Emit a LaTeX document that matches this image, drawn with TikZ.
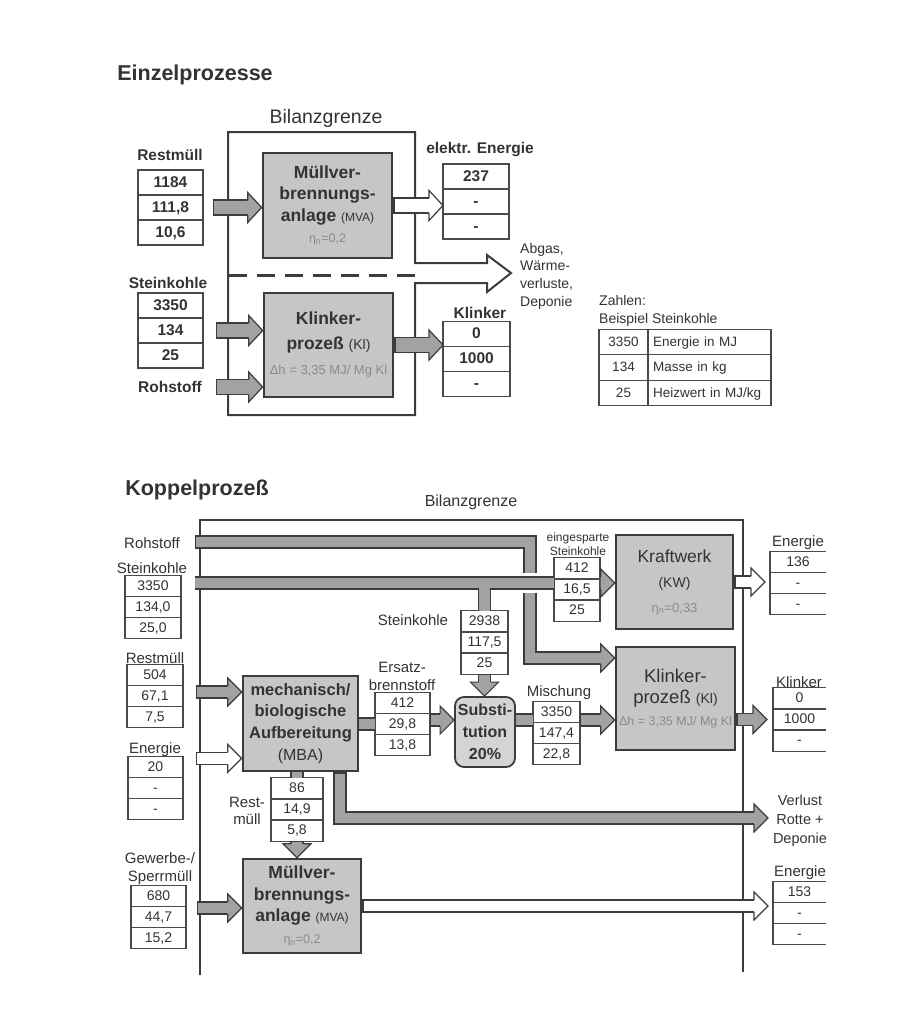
\documentclass[tikz,border=0pt]{standalone}
\usepackage{fontspec}
\setmainfont{Liberation Sans}
\usetikzlibrary{calc,positioning,shapes.multipart}
\definecolor{DiagText}{HTML}{333333}
\definecolor{DiagEdge}{HTML}{3C3C3C}
\definecolor{DiagLine}{HTML}{4A4A4A}
\definecolor{DiagBox}{HTML}{C6C6C6}
\definecolor{DiagFlow}{HTML}{A2A2A2}
\definecolor{DiagSoft}{HTML}{8A8A8A}
\newcommand\sm[2]{{\mdseries\fontsize{#1}{#1}\selectfont#2}}
\newcommand\soft[2]{{\mdseries\fontsize{#1}{#1}\selectfont\color{DiagSoft}#2}}
\newcommand\vals[3]{\rule[-.32em]{0pt}{1.25em}#1\nodepart{two}\rule[-.32em]{0pt}{1.25em}#2\nodepart{three}\rule[-.32em]{0pt}{1.25em}#3}
% block arrow: #2 path up to the last bend, #3 last bend, #4 tip
\newcommand\flow[4][]{%
  \begin{scope}[#1]
    \path ($(#4)!\flowL!(#3)$) coordinate (fb);
    \draw[preaction={draw=DiagEdge,line width=2*\flowS+1.2pt,shorten <=0pt},
      draw=\flowC,line width=2*\flowS-1.2pt,shorten <=1.2pt] #2 -- (fb);
    \filldraw[fill=\flowC,draw=DiagEdge,line width=1.2pt]
      ($(fb)!\flowS!90:(#4)$) -- ($(fb)!\flowH!90:(#4)$) -- (#4)
      -- ($(fb)!\flowH!-90:(#4)$) -- ($(fb)!\flowS!-90:(#4)$);
  \end{scope}}

\begin{document}
\begin{tikzpicture}[x=1pt,y=-1pt,
    ttl/.style={font=\fontsize{21.5}{24}\selectfont\bfseries,text=DiagText,inner sep=0pt},
    lblb/.style={font=\fontsize{15.5}{18}\selectfont\bfseries,text=DiagText,inner sep=1pt},
    lbl/.style={font=\fontsize{15}{17.5}\selectfont,text=DiagText,inner sep=1pt,align=center},
    proc/.style={draw=DiagEdge,line width=2.6pt,fill=DiagBox,align=center,inner sep=0pt,text=DiagText,
      font=\fontsize{17.5}{21.5}\selectfont\bfseries},
    tab/.style={rectangle split,rectangle split parts=3,draw=DiagLine,line width=1.2pt,fill=white,
      text width=#1,align=center,inner xsep=0pt,outer sep=0pt,text=DiagText},
    tabU/.style={tab=#1,inner ysep=2.2pt,font=\fontsize{15.5}{18}\selectfont\bfseries},
    tabL/.style={tab=#1,inner ysep=1.2pt,font=\fontsize{14}{16}\selectfont},
    tabO/.style={tabL=#1,draw=none},
    tabline/.style={draw=DiagLine,line width=1.2pt},
    bound/.style={draw=DiagEdge,line width=2pt},
    bar/.style={preaction={draw=DiagEdge,line width=13.2pt,shorten <=0pt},draw=DiagFlow,line width=10.8pt},
    up/.style={flow shaft=7.5pt,flow head=15pt},
    hollow/.style={flow fill=white},
    flow shaft/.store in=\flowS,flow head/.store in=\flowH,flow len/.store in=\flowL,flow fill/.store in=\flowC,
    flow shaft=6pt,flow head=14pt,flow len=14pt,flow fill=DiagFlow]
  \fill[white] (0,0) rectangle (922,1025);
  \useasboundingbox (0,0) rectangle (922,1025);

  % Einzelprozesse
  \node[ttl] (ttlA) at (195,75) {Einzelprozesse};
  \node[font=\fontsize{19.5}{22}\selectfont,text=DiagText] (bgA) at (326,118) {Bilanzgrenze};
  \draw[bound] (228,132) -- (415,132) -- (415,263) -- (487,263) -- (487,255) -- (511,273)
    -- (487,292) -- (487,283) -- (415,283) -- (415,415) -- (228,415) -- cycle;
  \draw[bound,line width=3pt,dash pattern=on 18pt off 10pt] (229,275) -- (415,275);

  \node[lblb] (rmU) at (170,155) {Restmüll};
  \node[tabU=65pt] (rmT) at (170.5,207.5) {\vals{1184}{111,8}{10,6}};
  \node[lblb] (skU) at (168,283) {Steinkohle};
  \node[tabU=65pt] (skT) at (170.5,330.5) {\vals{3350}{134}{25}};
  \node[lblb] (roU) at (170,387) {Rohstoff};

  \node[proc,minimum width=129pt,minimum height=105pt] (mva) at (327.5,205.5)
    {Müllver-\\brennungs-\\anlage \sm{12}{(MVA)}\\\soft{12.5}{η\textsubscript{n}=0,2}};
  \node[proc,minimum width=129pt,minimum height=104pt,font=\fontsize{17.5}{25}\selectfont\bfseries] (kl) at (328.5,345)
    {Klinker-\\prozeß \sm{14}{(Kl)}\\\soft{13}{Δh = 3,35 MJ/ Mg Kl}};

  \node[lblb] (elU) at (480,150) {elektr. Energie};
  \node[tabU=66pt] (elT) at (476,201.5) {\vals{237}{-}{-}};
  \node[lblb] (klU) at (480,313) {Klinker};
  \node[tabU=67pt] (klT) at (476.5,359) {\vals{0}{1000}{-}};
  \node[lbl,align=left,anchor=west,font=\fontsize{14}{17.7}\selectfont] (abg) at (519,276)
    {Abgas,\\Wärme-\\verluste,\\Deponie};

  \node[anchor=west,align=left,font=\fontsize{14}{18}\selectfont,text=DiagText,inner sep=0pt] (zahl) at (599,311)
    {Zahlen:\\Beispiel Steinkohle};
  \node[tab=49pt,inner ysep=3.7pt,font=\fontsize{13.5}{16}\selectfont] (lgA) at (623.5,367.5) {\vals{3350}{134}{25}};
  \node[tab=113pt,inner xsep=5pt,inner ysep=3.7pt,align=left,font=\fontsize{13.5}{16}\selectfont,right=0pt of lgA] (lgB)
    {\vals{Energie in MJ}{Masse in kg}{Heizwert in MJ/kg}};

  \coordinate (rmA) at ($(rmT.east)+(10,0)$);
  \coordinate (skA) at ($(skT.east)+(13,0)$);
  \coordinate (roA) at (skA |- roU);
  \flow[up]{(rmA)}{rmA}{rmA -| mva.west}
  \flow[up]{(skA)}{skA}{skA -| kl.west}
  \flow[up]{(roA)}{roA}{roA -| kl.west}
  \flow[up,hollow]{(mva.east)}{mva.east}{mva.east -| elT.west}
  \flow[up]{(kl.east)}{kl.east}{kl.east -| klT.west}

  % Koppelprozess
  \node[ttl] (ttlB) at (197,490) {Koppelprozeß};
  \node[font=\fontsize{16}{18}\selectfont,text=DiagText] (bgB) at (471,502) {Bilanzgrenze};
  \draw[bound] (200,975) -- (200,520) -- (743,520) -- (743,972);

  \node[lbl] (roL) at (152,543) {Rohstoff};
  \node[lbl] (skL) at (152,568) {Steinkohle};
  \node[tabL=56pt] (skLT) at (153,607) {\vals{3350}{134,0}{25,0}};
  \node[lbl] (rmL) at (155,658) {Restmüll};
  \node[tabL=56pt] (rmLT) at (155,696) {\vals{504}{67,1}{7,5}};
  \node[lbl] (enL) at (155,750) {Energie};
  \node[tabL=55pt] (enLT) at (155.5,788) {\vals{20}{-}{-}};
  \node[lbl] (gwL) at (160,868.5) {Gewerbe-/\\Sperrmüll};
  \node[tabL=55pt] (gwT) at (158.5,917) {\vals{680}{44,7}{15,2}};

  \node[proc,minimum width=115pt,minimum height=95pt,font=\fontsize{16.5}{21.7}\selectfont\bfseries] (mba) at (300.5,723.5)
    {mechanisch/\\biologische\\Aufbereitung\\\sm{16}{(MBA)}};
  \node[proc,minimum width=118pt,minimum height=94pt] (mva2) at (302,906)
    {Müllver-\\brennungs-\\anlage \sm{12}{(MVA)}\\\soft{12.5}{η\textsubscript{n}=0,2}};
  \node[proc,minimum width=60pt,minimum height=70pt,rounded corners=9pt,line width=1.8pt,fill=DiagBox!75!white,
    font=\fontsize{16}{22}\selectfont\bfseries] (sub) at (485,732) {Substi-\\tution\\20\%};
  \node[proc,minimum width=117pt,minimum height=94pt,font=\fontsize{17.5}{25}\selectfont] (kw) at (674.5,582)
    {Kraftwerk\\\sm{14}{(KW)}\\\soft{13}{η\textsubscript{n}=0,33}};
  \node[proc,minimum width=119pt,minimum height=103pt,font=\fontsize{18.5}{21.5}\selectfont] (klk) at (675.5,698.5)
    {Klinker-\\prozeß \sm{14}{(Kl)}\\\soft{12.5}{Δh = 3,35 MJ/ Mg Kl}};

  \node[lbl] (ezL) at (402,676.5) {Ersatz-\\brennstoff};
  \node[tabL=55pt] (ezT) at (402.5,724) {\vals{412}{29,8}{13,8}};
  \node[lbl] (skM) at (413,620) {Steinkohle};
  \node[tabL=47pt] (t29) at (484.5,642.5) {\vals{2938}{117,5}{25}};
  \node[lbl,font=\fontsize{12}{14}\selectfont] (egL) at (578,544) {eingesparte\\Steinkohle};
  \node[tabL=46pt] (egT) at (577,589.5) {\vals{412}{16,5}{25}};
  \node[lbl] (miL) at (559,693) {Mischung};
  \node[tabL=47pt] (miT) at (556.5,733) {\vals{3350}{147,4}{22,8}};
  \node[lbl] (rm2L) at (247,811) {Rest-\\müll};
  \node[tabL=52pt] (rm2T) at (297,809.5) {\vals{86}{14,9}{5,8}};

  \node[lbl] (enR) at (798,543) {Energie};
  \node[tabO=56pt] (enRT) at (798,583) {\vals{136}{-}{-}};
  \node[lbl] (klR) at (799,682) {Klinker};
  \node[tabO=53pt] (klRT) at (799.5,719.5) {\vals{0}{1000}{-}};
  \node[lbl,font=\fontsize{14.5}{19}\selectfont] (vlR) at (800,821) {Verlust\\Rotte +\\Deponie};
  \node[lbl] (en2R) at (800,873) {Energie};
  \node[tabO=53pt] (en2T) at (799.5,913) {\vals{153}{-}{-}};
  \foreach \t in {enRT,klRT,en2T}{
    \draw[tabline] (\t.north east) -- (\t.north west) -- (\t.south west) -- (\t.south east)
      ($(\t.north west)!1/3!(\t.south west)$) -- ($(\t.north east)!1/3!(\t.south east)$)
      ($(\t.north west)!2/3!(\t.south west)$) -- ($(\t.north east)!2/3!(\t.south east)$);
  }

  \coordinate (roS) at (195,542);
  \coordinate (roC) at (530,658);
  \coordinate (skS) at (195,583);
  \coordinate (mxY) at (0,720);
  \coordinate (vlC) at (340,818);
  \coordinate (vlT) at ($(vlC -| en2T.west)+(-5,0)$);
  \coordinate (rmB) at ($(rmLT.east)+(13,-4)$);
  \coordinate (enB) at ($(enLT.north east)+(13,2)$);
  \coordinate (gwB) at ($(gwT.east)+(11,-9)$);
  \coordinate (kwT) at ($(kw.east -| enRT.west)+(-5,0)$);
  \coordinate (klA) at (klk.east |- klRT.west);
  \coordinate (klB) at ($(klRT.west)+(-6,0)$);
  \coordinate (mvT) at ($(mva2.east -| en2T.west)+(-5,0)$);

  \flow{(roS) -| (roC)}{roC}{roC -| klk.west}
  \draw[white,line width=20pt] ($(skS -| roC)+(-9,0)$) -- ($(skS -| roC)+(9,0)$);
  \draw[bar,shorten <=1.2pt] (skS) -- (skS -| egT.west) (skS -| t29.north) -- (t29.north);
  \flow{(skS -| egT.east)}{skS -| egT.east}{skS -| kw.west}
  \flow{(t29.south)}{t29.south}{t29.south |- sub.north}

  \flow{(rmB)}{rmB}{rmB -| mba.west}
  \flow[hollow]{(enB)}{enB}{enB -| mba.west}
  \flow{(gwB)}{gwB}{gwB -| mva2.west}
  \draw[bar] (mba.east |- ezT.west) -- (ezT.west);
  \flow{(ezT.east |- mxY)}{ezT.east |- mxY}{sub.west |- mxY}
  \draw[bar] (sub.east |- mxY) -- (miT.west |- mxY);
  \flow{(miT.east |- mxY)}{miT.east |- mxY}{klk.west |- mxY}
  \draw[bar] (mba.south -| rm2T.north) -- (rm2T.north);
  \flow{(rm2T.south)}{rm2T.south}{rm2T.south |- mva2.north}
  \flow{(mba.south -| vlC) -- (vlC)}{vlC}{vlT}

  \flow[hollow]{(kw.east)}{kw.east}{kwT}
  \flow{(klA)}{klA}{klB}
  \flow[hollow]{(mva2.east)}{mva2.east}{mvT}
\end{tikzpicture}
\end{document}
